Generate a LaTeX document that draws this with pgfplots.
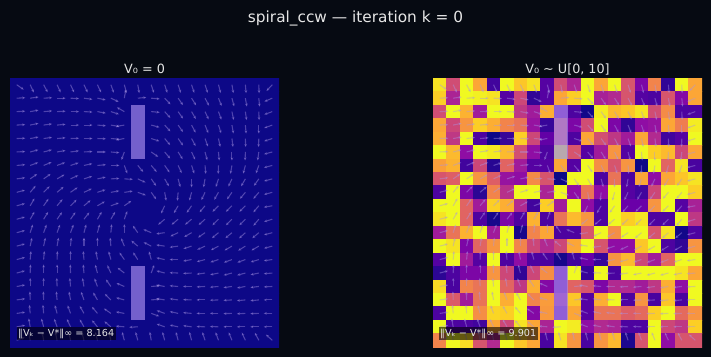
\documentclass[border=0pt]{standalone}
\usepackage{fontspec}
\setmainfont{DejaVu Sans}
\usepackage{pgfplots}
\usepackage{pgfplotstable}
\pgfplotsset{compat=1.18}
\usetikzlibrary{arrows.meta}
\definecolor{figbg}{HTML}{060A12}
\definecolor{txt}{HTML}{E6E6E6}
\definecolor{obst}{RGB}{161,134,234}
\definecolor{arr}{RGB}{170,150,230}
\pgfplotsset{colormap={plasma}{rgb255=(13,8,135) rgb255=(65,4,157) rgb255=(106,0,168) rgb255=(143,13,164) rgb255=(177,42,144) rgb255=(204,71,120) rgb255=(225,100,98) rgb255=(242,132,75) rgb255=(252,166,54) rgb255=(252,206,37) rgb255=(240,249,33)}}
% right-panel cell values, row 0 (top) to row 19, 20 per row
\pgfplotstableread[row sep=\\]{
v\\%
9.5\\5.2\\10\\8\\1\\10\\8.8\\9.5\\1.5\\5.2\\3.8\\10\\8\\10\\5.5\\2.5\\7\\0.7\\10\\8\\%
9\\3.8\\10\\9.8\\9.5\\1.5\\5\\0.7\\1.5\\8\\9\\10\\3.7\\4\\5.5\\1.5\\1.3\\5.5\\2.7\\8\\%
5.2\\10\\8.3\\3.5\\10\\10\\4.5\\3.5\\8.2\\2\\1.3\\0.1\\9.7\\8.5\\8.8\\9.5\\5.2\\7.2\\1.3\\1.3\\%
8\\5\\7.5\\9\\8.2\\7\\6.5\\3.2\\0.8\\5.5\\2.5\\5.2\\10\\2.5\\0.7\\3\\3.2\\8\\6.8\\9.7\\%
8.2\\4.5\\10\\1.3\\0\\0.8\\9\\5\\1.8\\5.5\\1.3\\8\\5.3\\4.5\\3.5\\8\\4\\1\\1.5\\10\\%
10\\8.5\\3\\10\\9.7\\8.5\\5.3\\3\\1.3\\10\\5.5\\1.5\\3.5\\7.5\\1.5\\10\\9\\8.5\\5\\8\\%
7.8\\8.3\\1\\5\\0.5\\6\\3.5\\1.5\\1.5\\8\\1.5\\10\\7.3\\5.5\\7.5\\0\\10\\6\\9.5\\1.2\\%
5.5\\5.8\\10\\7.5\\5.8\\3.2\\3\\7.2\\5.5\\0\\10\\10\\1.3\\6.5\\1.3\\8\\3\\8\\8.8\\9.5\\%
1.3\\10\\2.5\\0.6\\7\\4.2\\10\\10\\3.8\\10\\3\\6.5\\3\\10\\1.5\\1\\5\\10\\10\\9\\%
10\\10\\6\\3.5\\9\\8.2\\4\\1\\9\\3.5\\10\\3\\1.3\\10\\2\\2\\7.5\\10\\1.5\\3.7\\%
9.5\\10\\6\\1.3\\0.2\\2.5\\1.3\\8.3\\1.3\\6.5\\8.5\\7.5\\1.3\\10\\9\\9.5\\1.3\\1.3\\10\\4.5\\%
3.5\\6.5\\8.3\\10\\3.5\\10\\0.2\\7\\8\\1.3\\1.3\\5.5\\10\\7.3\\10\\10\\5.5\\9.5\\0.1\\1.3\\%
10\\9.5\\2.5\\6\\7.5\\10\\7\\5\\4\\5\\8\\10\\5.5\\3\\3\\8.8\\10\\1.3\\0.7\\7.5\\%
1.5\\10\\3.5\\1.5\\10\\1.3\\3\\1.3\\1.2\\0.2\\1\\2\\0.8\\7.5\\8.5\\5\\3.5\\6\\10\\10\\%
0.6\\1.3\\2.5\\2.5\\7.5\\5\\0.7\\5\\7.3\\2\\10\\0.8\\10\\1.2\\10\\10\\10\\10\\9.5\\8\\%
9.3\\1.2\\7\\6.5\\10\\6\\4.5\\8.2\\2.7\\2\\6\\5.5\\2.5\\4\\4\\3.5\\4.5\\8.2\\3\\10\\%
10\\5.7\\3.5\\6.5\\10\\8.2\\10\\7\\7.7\\3.5\\8.8\\1.5\\8.2\\10\\1.3\\7.5\\1.2\\8.8\\1.2\\10\\%
1.3\\10\\10\\7.3\\9.2\\9\\10\\2.7\\7.6\\2\\8\\1.5\\6.5\\6.5\\5.8\\6.2\\9\\10\\6.2\\7.5\\%
10\\1.3\\1.3\\1\\8\\5\\9.5\\8\\3.8\\10\\9.7\\3\\4\\3.8\\1.3\\1.3\\10\\5\\4.5\\9\\%
7\\10\\9.3\\5.5\\4\\10\\8.8\\8\\1.2\\9.5\\7.5\\1.2\\7.5\\8.5\\0.3\\5.5\\10\\3\\5.5\\5.5\\%
}\heat
% arrows: column, row, screen angle in degrees
\pgfplotstableread[row sep=\\]{
c r a\\%
0 0 -35\\1 0 -65\\2 0 -62\\3 0 -65\\4 0 -65\\5 0 -65\\6 0 -65\\7 0 -70\\8 0 -75\\9 0 -80\\10 0 -72\\11 0 -72\\12 0 -72\\13 0 -72\\14 0 -72\\15 0 -75\\16 0 -80\\17 0 -85\\18 0 -88\\19 0 -133\\%
0 1 3\\1 1 8\\2 1 3\\3 1 0\\4 1 -3\\5 1 -8\\6 1 -12\\7 1 -25\\8 1 80\\9 1 5\\10 1 -5\\11 1 -47\\12 1 -55\\13 1 -58\\14 1 -62\\15 1 -68\\16 1 -75\\17 1 -80\\18 1 -85\\19 1 203\\%
0 2 3\\1 2 10\\2 2 5\\3 2 3\\4 2 0\\5 2 -3\\6 2 -10\\7 2 -18\\8 2 150\\10 2 -5\\11 2 -48\\12 2 -55\\13 2 -60\\14 2 -65\\15 2 -70\\16 2 -78\\17 2 -82\\18 2 -88\\19 2 200\\%
0 3 3\\1 3 12\\2 3 8\\3 3 5\\4 3 0\\5 3 0\\6 3 -5\\7 3 -10\\8 3 190\\10 3 -15\\11 3 -48\\12 3 -55\\13 3 -62\\14 3 -68\\15 3 -72\\16 3 -80\\17 3 -85\\18 3 -90\\19 3 200\\%
0 4 2\\1 4 10\\2 4 8\\3 4 5\\4 4 2\\5 4 0\\6 4 -2\\7 4 -5\\8 4 190\\10 4 -18\\11 4 -50\\12 4 -55\\13 4 -62\\14 4 -70\\15 4 -78\\16 4 -83\\17 4 -88\\18 4 -92\\19 4 198\\%
0 5 3\\1 5 15\\2 5 15\\3 5 10\\4 5 8\\5 5 3\\6 5 0\\7 5 -5\\8 5 -110\\10 5 -35\\11 5 -50\\12 5 -58\\13 5 -65\\14 5 -75\\15 5 -85\\16 5 -90\\17 5 -92\\18 5 -98\\19 5 195\\%
0 6 5\\1 6 20\\2 6 22\\3 6 20\\4 6 18\\5 6 12\\6 6 5\\7 6 0\\8 6 -70\\9 6 -50\\10 6 -50\\11 6 -55\\12 6 -65\\13 6 -72\\14 6 -85\\15 6 -92\\16 6 -100\\17 6 -105\\18 6 -110\\19 6 195\\%
0 7 8\\1 7 35\\2 7 35\\3 7 30\\4 7 25\\5 7 18\\6 7 12\\7 7 3\\8 7 -3\\9 7 -25\\10 7 -55\\11 7 -60\\12 7 -75\\13 7 -90\\14 7 -100\\15 7 -108\\16 7 -115\\17 7 -120\\18 7 -125\\19 7 195\\%
0 8 15\\1 8 50\\2 8 45\\3 8 40\\4 8 35\\5 8 25\\6 8 18\\7 8 10\\8 8 8\\9 8 -20\\10 8 -55\\11 8 -80\\12 8 -95\\13 8 -105\\14 8 -115\\15 8 -120\\16 8 -125\\17 8 -130\\18 8 -130\\19 8 195\\%
0 9 15\\1 9 60\\2 9 55\\3 9 50\\4 9 45\\5 9 40\\6 9 30\\7 9 20\\8 9 35\\11 9 -115\\12 9 -120\\13 9 -125\\14 9 -130\\15 9 -135\\16 9 -135\\17 9 -135\\18 9 -130\\19 9 190\\%
0 10 15\\1 10 60\\2 10 58\\3 10 55\\4 10 55\\5 10 52\\6 10 60\\7 10 60\\8 10 70\\11 10 220\\12 10 220\\13 10 220\\14 10 222\\15 10 225\\16 10 225\\17 10 225\\18 10 230\\19 10 197\\%
0 11 15\\1 11 72\\2 11 70\\3 11 70\\4 11 70\\5 11 75\\6 11 75\\7 11 85\\8 11 90\\9 11 125\\10 11 157\\11 11 188\\12 11 205\\13 11 210\\14 11 215\\15 11 220\\16 11 220\\17 11 222\\18 11 220\\19 11 195\\%
0 12 15\\1 12 78\\2 12 78\\3 12 80\\4 12 85\\5 12 90\\6 12 90\\7 12 95\\8 12 112\\9 12 140\\10 12 153\\11 12 172\\12 12 188\\13 12 198\\14 12 205\\15 12 208\\16 12 210\\17 12 212\\18 12 210\\19 12 195\\%
0 13 15\\1 13 85\\2 13 85\\3 13 88\\4 13 90\\5 13 95\\6 13 100\\7 13 105\\8 13 125\\9 13 123\\10 13 105\\11 13 168\\12 13 180\\13 13 190\\14 13 195\\15 13 198\\16 13 200\\17 13 200\\18 13 197\\19 13 188\\%
0 14 15\\1 14 88\\2 14 90\\3 14 90\\4 14 92\\5 14 95\\6 14 105\\7 14 115\\8 14 142\\10 14 70\\11 14 165\\12 14 178\\13 14 183\\14 14 188\\15 14 192\\16 14 195\\17 14 195\\18 14 192\\19 14 185\\%
0 15 10\\1 15 90\\2 15 90\\3 15 92\\4 15 95\\5 15 100\\6 15 110\\7 15 125\\8 15 157\\10 15 5\\11 15 170\\12 15 175\\13 15 180\\14 15 183\\15 15 185\\16 15 188\\17 15 190\\18 15 187\\19 15 183\\%
0 16 8\\1 16 92\\2 16 92\\3 16 95\\4 16 100\\5 16 110\\6 16 120\\7 16 135\\8 16 165\\10 16 5\\11 16 170\\12 16 172\\13 16 178\\14 16 180\\15 16 182\\16 16 183\\17 16 185\\18 16 185\\19 16 180\\%
0 17 8\\1 17 95\\2 17 95\\3 17 105\\4 17 110\\5 17 120\\6 17 130\\7 17 145\\8 17 170\\10 17 -20\\11 17 160\\12 17 168\\13 17 175\\14 17 180\\15 17 180\\16 17 182\\17 17 183\\18 17 182\\19 17 180\\%
0 18 10\\1 18 100\\2 18 105\\3 18 110\\4 18 115\\5 18 120\\6 18 130\\7 18 140\\8 18 175\\9 18 183\\11 18 160\\12 18 168\\13 18 172\\14 18 178\\15 18 178\\16 18 180\\17 18 180\\18 18 180\\19 18 180\\%
0 19 20\\1 19 100\\2 19 100\\3 19 102\\4 19 102\\5 19 105\\6 19 105\\7 19 105\\8 19 105\\9 19 105\\10 19 100\\11 19 105\\12 19 105\\13 19 105\\14 19 108\\15 19 110\\16 19 112\\17 19 115\\18 19 118\\19 19 138\\%
}\field
\pgfplotsset{panel/.style={
  scale only axis, width=269bp, height=269bp, hide axis,
  xmin=-0.5, xmax=19.5, ymin=-0.5, ymax=19.5,
  colormap name=plasma, point meta min=0, point meta max=10},
  arrows field/.style={draw=none,
    quiver={u={0.64*cos(\thisrow{a})}, v={0.64*sin(\thisrow{a})},
      every arrow/.append style={draw=arr, fill=arr, opacity=0.38, line width=1.1bp,
        -{Stealth[length=3.2bp,width=2.8bp]}}}},
  obstacle/.style={draw=none, fill=obst, fill opacity=0.7, forget plot}}
\begin{document}
\begin{tikzpicture}[x=1bp,y=1bp]
\path[use as bounding box] (0,0) rectangle (711,357);
\fill[figbg] (0,0) rectangle (711,357);
\node[text=txt,font=\fontsize{15.4}{17}\selectfont] at (355.5,338.8) {spiral\_ccw — iteration k = 0};
\node[text=txt,font=\fontsize{12.8}{14}\selectfont] at (144.5,287.8) {V₀ = 0};
\node[text=txt,font=\fontsize{12.8}{14}\selectfont] at (567.5,287.8) {V₀ \textasciitilde{} U[0, 10]};
\begin{axis}[panel, at={(10bp,10bp)}, anchor=south west]
\addplot[matrix plot*, mesh/cols=20, point meta=0] table[x index=0, y index=0, x expr={\coordindex-20*floor((\coordindex+0.5)/20)}, y expr={19-floor((\coordindex+0.5)/20)}] {\heat};
\addplot[obstacle] coordinates {(8.5,17.5)(9.5,17.5)(9.5,13.5)(8.5,13.5)} --cycle;
\addplot[obstacle] coordinates {(8.5,5.5)(9.5,5.5)(9.5,1.5)(8.5,1.5)} --cycle;
\addplot[arrows field] table[x=c, y expr={19-\thisrow{r}}] {\field};
\end{axis}
\begin{axis}[panel, at={(433bp,10bp)}, anchor=south west]
\addplot[matrix plot*, mesh/cols=20, point meta=\thisrow{v}] table[x index=0, y index=0, x expr={\coordindex-20*floor((\coordindex+0.5)/20)}, y expr={19-floor((\coordindex+0.5)/20)}] {\heat};
\addplot[obstacle] coordinates {(8.5,17.5)(9.5,17.5)(9.5,13.5)(8.5,13.5)} --cycle;
\addplot[obstacle] coordinates {(8.5,5.5)(9.5,5.5)(9.5,1.5)(8.5,1.5)} --cycle;
\addplot[arrows field] table[x=c, y expr={19-\thisrow{r}}] {\field};
\end{axis}
\fill[black,opacity=0.6] (17,17) rectangle (116,30);
\node[text=txt,font=\fontsize{9.7}{11}\selectfont,anchor=west,inner sep=0pt] at (18,23.3) {‖Vₖ − V*‖∞ = 8.164};
\fill[black,opacity=0.6] (439,17) rectangle (538,30);
\node[text=txt,font=\fontsize{9.7}{11}\selectfont,anchor=west,inner sep=0pt] at (440,23.3) {‖Vₖ − V*‖∞ = 9.901};
\end{tikzpicture}
\end{document}
